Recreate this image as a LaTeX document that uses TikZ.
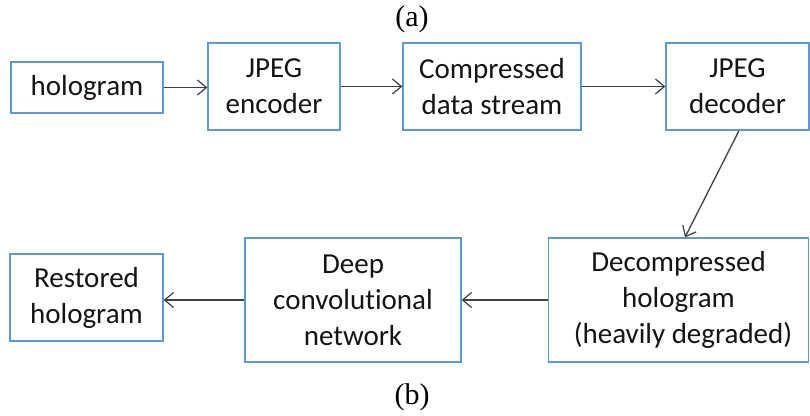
\documentclass[tikz,border=0pt]{standalone}
\usepackage{fontspec}
\setmainfont[RawFeature=-liga]{Carlito}
\newfontfamily\labelfont{Liberation Serif}
\usetikzlibrary{arrows.meta}
\definecolor{boxblue}{RGB}{91,155,213}
\definecolor{arrowgray}{RGB}{64,64,64}
\definecolor{txt}{RGB}{20,20,20}
\begin{document}
\begin{tikzpicture}[x=1pt,y=-1pt,
  blk/.style={draw=boxblue,line width=1.3pt,rectangle,inner sep=0pt,align=center,
    text=txt,font=\fontsize{29}{36}\selectfont},
  flow/.style={draw=arrowgray,line width=1.3pt,-{Straight Barb[length=9pt,width=15pt,line width=1.2pt]}},
  lbl/.style={font=\labelfont\fontsize{30}{34}\selectfont,inner sep=0pt}]
\useasboundingbox (0,0) rectangle (810,415);
\node[blk,minimum width=152,minimum height=51] (holo) at (87,87.5) {hologram};
\node[blk,minimum width=132,minimum height=87] (enc) at (274,86.5) {JPEG\\encoder};
\node[blk,minimum width=178,minimum height=87] (comp) at (492,86.5) {Compressed\\data stream};
\node[blk,minimum width=143,minimum height=87] (dec) at (737.5,86.5) {JPEG\\decoder};
\node[blk,minimum width=153,minimum height=87] (rest) at (86.5,297.5) {Restored\\hologram};
\node[blk,minimum width=216,minimum height=124] (deep) at (353,300) {Deep\\convolutional\\network};
\node[blk,minimum width=260,minimum height=124] (decomp) at (678.5,300) {Decompressed\\hologram\\\hspace*{9pt}(heavily degraded)};
\node[lbl] (la) at (412,19) {(a)};
\node[lbl] (lb) at (412,397) {(b)};
\draw[flow] (holo.east) -- (enc.west |- holo.east);
\draw[flow] (enc.east) -- (comp.west);
\draw[flow] (comp.east) -- (dec.west);
\draw[flow] ([xshift=1.5pt]dec.south) -- ([xshift=6.5pt]decomp.north);
\draw[flow] (decomp.west) -- (deep.east);
\draw[flow] (deep.west) -- (rest.east |- deep.west);
\end{tikzpicture}
\end{document}
